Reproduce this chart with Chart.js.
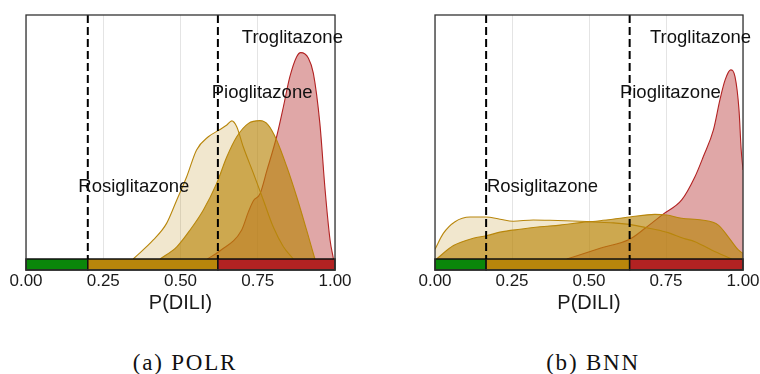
<!DOCTYPE html>
<html>
<head>
<meta charset="utf-8">
<script src="https://cdn.jsdelivr.net/npm/chart.js@4.4.1/dist/chart.umd.min.js"></script>
<style>
  body { margin: 0; background: #fff; width: 760px; height: 374px; position: relative; overflow: hidden; }
  .panel { position: absolute; top: 0; width: 380px; height: 320px; }
  .caption {
    position: absolute; top: 351px; width: 200px; text-align: center;
    font: 23px 'Liberation Serif', 'Times New Roman', serif; line-height: 23px;
    letter-spacing: 1.8px; color: #111;
  }
</style>
</head>
<body>
<div class="panel" style="left:0"><canvas id="polr"></canvas></div>
<div class="panel" style="left:380px"><canvas id="bnn"></canvas></div>
<div class="caption" style="left:85px">(a) POLR</div>
<div class="caption" style="left:493px">(b) BNN</div>

<script>
// density heights are scaled so that 1 = top of the panel
const DRUGS = ['Rosiglitazone', 'Pioglitazone', 'Troglitazone'];
const TICKS = [0, 0.25, 0.5, 0.75, 1];

// (a) POLR
const POLR_CUTS = [0.2, 0.621];
const POLR_ROSI_X = [0.347, 0.412, 0.455, 0.488, 0.520, 0.552, 0.590, 0.622, 0.650, 0.666, 0.682, 0.703, 0.736, 0.768, 0.800, 0.833, 0.865];
const POLR_ROSI_Y = [0, 0.078, 0.146, 0.242, 0.337, 0.447, 0.501, 0.526, 0.549, 0.566, 0.542, 0.460, 0.351, 0.242, 0.132, 0.050, 0];
const POLR_PIO_X = [0.434, 0.488, 0.531, 0.574, 0.617, 0.650, 0.682, 0.720, 0.757, 0.784, 0.811, 0.844, 0.876, 0.908, 0.935];
const POLR_PIO_Y = [0, 0.050, 0.119, 0.201, 0.310, 0.419, 0.501, 0.556, 0.567, 0.549, 0.488, 0.378, 0.255, 0.119, 0];
const POLR_TROG_X = [0.587, 0.628, 0.698, 0.720, 0.736, 0.757, 0.779, 0.811, 0.833, 0.854, 0.876, 0.889, 0.914, 0.930, 0.951, 0.968, 0.984, 0.995];
const POLR_TROG_Y = [0, 0.034, 0.119, 0.194, 0.239, 0.266, 0.360, 0.501, 0.624, 0.747, 0.829, 0.846, 0.823, 0.761, 0.556, 0.283, 0.078, 0];

// (b) BNN
const BNN_CUTS = [0.166, 0.632];
const BNN_ROSI_X = [0, 0.027, 0.065, 0.114, 0.166, 0.211, 0.254, 0.319, 0.373, 0.449, 0.514, 0.579, 0.644, 0.703, 0.757, 0.806, 0.844, 0.898, 0.963];
const BNN_ROSI_Y = [0.040, 0.105, 0.153, 0.172, 0.172, 0.163, 0.155, 0.160, 0.159, 0.156, 0.152, 0.148, 0.139, 0.124, 0.108, 0.085, 0.071, 0.037, 0];
const BNN_PIO_X = [0.005, 0.060, 0.124, 0.166, 0.211, 0.276, 0.341, 0.406, 0.471, 0.536, 0.632, 0.714, 0.752, 0.801, 0.866, 0.920, 0.952, 0.985, 1.0];
const BNN_PIO_Y = [0, 0.055, 0.085, 0.095, 0.110, 0.122, 0.132, 0.139, 0.149, 0.157, 0.172, 0.183, 0.180, 0.167, 0.160, 0.139, 0.091, 0.037, 0.023];
const BNN_TROG_X = [0.428, 0.536, 0.632, 0.682, 0.741, 0.801, 0.844, 0.871, 0.904, 0.925, 0.942, 0.960, 0.974, 0.987, 0.994, 1.0];
const BNN_TROG_Y = [0, 0.044, 0.081, 0.126, 0.184, 0.242, 0.337, 0.419, 0.529, 0.652, 0.734, 0.775, 0.747, 0.611, 0.450, 0.365];

// label anchors (text centre x, baseline height)
const LABEL_X = [0.349, 0.764, 0.862];
const LABEL_Y = [0.273, 0.659, 0.886];

const GOLD = '184,134,11';
const RED = '178,34,34';
const BAR_COLORS = ['#0a870a', '#b8860b', '#b22222'];
const BAR = 11 / 244;
const FONT = "'Liberation Sans', Arial, Helvetica, sans-serif";

function series(label, xs, ys, rgb, alpha) {
  return {
    label,
    data: xs.map((x, i) => ({ x, y: ys[i] })),
    borderColor: `rgb(${rgb})`,
    backgroundColor: `rgba(${rgb},${alpha})`,
    borderWidth: 1.1,
    fill: 'origin',
    pointRadius: 0,
    cubicInterpolationMode: 'monotone',
  };
}

const panelPlugin = cuts => ({
  id: 'panel',
  afterDatasetsDraw(chart) {
    const { ctx, chartArea: a, scales: { x, y } } = chart;
    const y0 = y.getPixelForValue(0);
    const yb = y.getPixelForValue(-BAR);
    const edges = [0, cuts[0], cuts[1], 1];
    ctx.save();
    BAR_COLORS.forEach((c, i) => {
      const x0 = x.getPixelForValue(edges[i]);
      const x1 = x.getPixelForValue(edges[i + 1]);
      ctx.fillStyle = c;
      ctx.fillRect(x0, y0, x1 - x0, yb - y0);
      ctx.strokeStyle = '#111';
      ctx.lineWidth = 1.5;
      ctx.strokeRect(x0, y0, x1 - x0, yb - y0);
    });

    ctx.setLineDash([8, 4]);
    ctx.lineWidth = 2;
    ctx.strokeStyle = '#000';
    cuts.forEach(c => {
      const px = x.getPixelForValue(c);
      ctx.beginPath();
      ctx.moveTo(px, a.top);
      ctx.lineTo(px, y0);
      ctx.stroke();
    });
    ctx.setLineDash([]);

    ctx.strokeStyle = '#333';
    ctx.lineWidth = 1.3;
    ctx.strokeRect(a.left, a.top, a.right - a.left, a.bottom - a.top);

    ctx.font = `18.5px ${FONT}`;
    ctx.fillStyle = '#111';
    ctx.textAlign = 'center';
    ctx.textBaseline = 'alphabetic';
    DRUGS.forEach((name, i) => {
      ctx.fillText(name, x.getPixelForValue(LABEL_X[i]), y.getPixelForValue(LABEL_Y[i]));
    });
    ctx.restore();
  },
});

function drawPanel(id, cuts, rosi, pio, trog, padLeft, padRight) {
  new Chart(document.getElementById(id), {
    type: 'line',
    data: {
      datasets: [
        series(DRUGS[0], rosi[0], rosi[1], GOLD, 0.2),
        series(DRUGS[1], pio[0], pio[1], GOLD, 0.65),
        series(DRUGS[2], trog[0], trog[1], RED, 0.4),
      ],
    },
    options: {
      responsive: true,
      maintainAspectRatio: false,
      animation: false,
      layout: { padding: { left: padLeft, right: padRight, top: 15, bottom: 0 } },
      plugins: { legend: { display: false }, tooltip: { enabled: false } },
      scales: {
        x: {
          type: 'linear',
          min: 0,
          max: 1,
          afterBuildTicks: s => { s.ticks = TICKS.map(v => ({ value: v })); },
          afterFit: s => { s.paddingLeft = 0; s.paddingRight = 0; s.height = 50; },
          ticks: {
            callback: v => v.toFixed(2),
            font: { family: FONT, size: 17 },
            color: '#1a1a1a',
            padding: 1,
            maxRotation: 0,
            autoSkip: false,
          },
          grid: { color: '#e4e4e4', lineWidth: 1, drawTicks: false },
          border: { display: false },
          title: {
            display: true,
            text: 'P(DILI)',
            font: { family: FONT, size: 20 },
            color: '#1a1a1a',
            padding: { top: 0, bottom: 5 },
          },
        },
        y: { display: false, min: -BAR, max: 1 },
      },
    },
    plugins: [panelPlugin(cuts)],
  });
}

drawPanel('polr', POLR_CUTS,
  [POLR_ROSI_X, POLR_ROSI_Y], [POLR_PIO_X, POLR_PIO_Y], [POLR_TROG_X, POLR_TROG_Y], 26, 45);
drawPanel('bnn', BNN_CUTS,
  [BNN_ROSI_X, BNN_ROSI_Y], [BNN_PIO_X, BNN_PIO_Y], [BNN_TROG_X, BNN_TROG_Y], 55, 17);
</script>
</body>
</html>
